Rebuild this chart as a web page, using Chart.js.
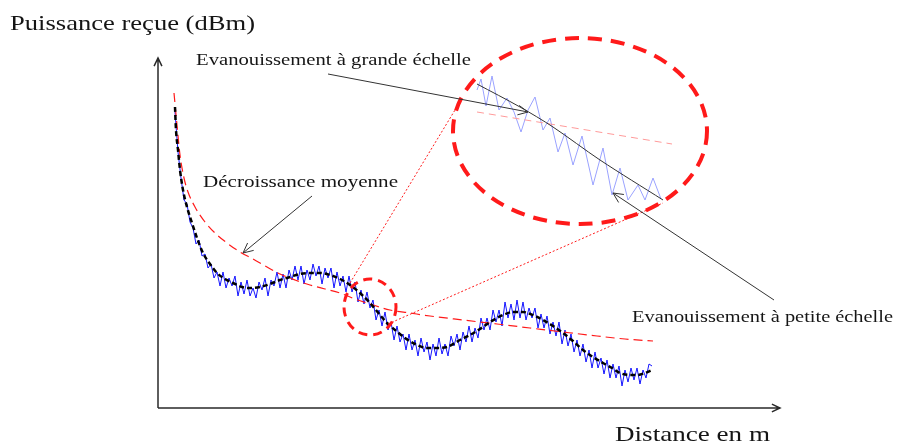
<!DOCTYPE html>
<html>
<head>
<meta charset="utf-8">
<script src="https://cdn.jsdelivr.net/npm/chart.js"></script>
<style>
	body { margin: 0; background: #fff; }
	canvas { display: block; }
</style>
</head>
<body>
<canvas id="chart" width="898" height="444"></canvas>
<script>
// Received power (blue, noisy) vs distance
let blueDist = [34,40,46,52,58,64,70,76,82,88, 94,100,106,112,118,124,130,136,142,148,
	154,160,166,172,178,184,190,196,202,208, 214,220,226,232,238,244,250,256,262,268,
	274,280,286,292,298,304,310,316,322,328, 334,340,346,352,358,364,370,376,382,388,
	394,400,406,412,418,424,430,436,442,448, 454,460,466,472,478,484,490,496,502,508,
	514,520,526,532,538,544,550,556,562,568, 574,580,586,592,598,604,610,616,622,628,
	634,640,646,652,658,664,670,676,682,688, 694,700,706,712,718,724,730,736,742,748,
	754,760,766,772,778,784,790,796,802,808, 814,820,826,832,838,844,850,856,862,868,
	874,880,886,892,898,904,910,916,922,928, 934,940,946,952,958,964,970,976,982,988];
let blueDbm = [-33,-43,-49.5,-55,-56,-60.5,-62,-66,-65,-69,
	-68.5,-72,-71,-74.5,-73,-76.5,-73,-77,-74.5,-76.5,
	-74,-79,-75.5,-78.5,-75,-79,-77,-79.5,-75.5,-77.5,
	-74.5,-79,-75,-76.5,-73,-77,-73.5,-77,-72.5,-75,
	-71.5,-75,-71.5,-76,-72.5,-75,-71,-74,-71.5,-76,
	-72,-74.5,-72,-77,-73,-76.5,-74,-78,-74,-78,
	-75.5,-80.5,-77.5,-81,-78,-82,-80,-85,-82.5,-86.5,
	-83,-87.5,-85.5,-90,-86.5,-90.5,-88.5,-92.5,-88.5,-92.5,
	-90,-94,-89.5,-93,-90.5,-95,-91,-94,-89.5,-93.5,
	-91,-94,-89,-91.5,-88.5,-92.5,-88,-90.5,-86.5,-90.5,
	-87,-89.5,-84.5,-87.5,-84.5,-87.5,-82.5,-85.5,-82.5,-86.5,
	-80.5,-84.5,-81,-85,-80,-84.5,-80.5,-85,-82,-84.5,
	-82,-87,-83.5,-87,-84,-88.5,-85.5,-89,-85.5,-91,
	-87.5,-91.5,-88.5,-93,-90,-94,-91,-95.5,-92.5,-97,
	-93,-97,-94.5,-98.5,-95,-99.5,-96,-99.5,-96.5,-101.5,
	-97.5,-100.5,-97,-100,-97,-101,-97.5,-99.5,-96,-96.5];

// Large scale fading (black dashed)
let meanDist = [34,36,40,44,50,58,68,78,90,104,118,134,150,168,184,204,224,244,264,284,
	304,324,344,364,384,404,424,444,458,474,494,514,538,558,578,604,624,644,664,690,
	710,730,750,770,790,810,830,850,870,890,908,924,944,958,974,988];
let meanDbm = [-31.75,-37.5,-42.5,-47.5,-52.5,-56.75,-60.75,-64.5,-68.25,-71,
	-73.25,-74.75,-75.75,-76.75,-77,-76.75,-76,-75,-74.25,-73.5,
	-73.25,-73.25,-73.75,-74.75,-76.25,-78.25,-80.75,-83.75,-85.75,-87.5,
	-89.5,-91,-92,-92,-91.75,-90,-88.75,-87.25,-85.5,-83.75,
	-83,-83,-83.75,-85,-86.5,-88.25,-90.25,-92.5,-94.25,-95.75,
	-97,-98.25,-98.75,-98.75,-98.25,-97.5];

// Path loss (red dashed)
let lossDist = [32,38,44,52,60,74,94,114,138,164,190,218,244,274,304,334,364,394,424,464,
	504,544,610,678,744,810,878,934,990];
let lossDbm = [-28.25,-36.25,-43.75,-49.5,-53,-56.75,-60.5,-63.25,-65.75,-68,
	-69.75,-71.75,-73.5,-75,-76.25,-77.25,-78.25,-79.75,-81,-82.5,
	-83.25,-84,-85,-86,-87,-88,-89,-89.75,-90.25];

// Zoomed detail inside the big ellipse
let zoomBlueDist = [638,646,656,668,682,698,712,726,740,754,770,784,800,814,830,848,870,890,908,924,940,960,974,990,1006];
let zoomBlueDbm = [-27.5,-24.75,-31.5,-24,-32.5,-29.5,-33,-38,-32.5,-29.25,-37.5,-34.5,-43,-38.25,-46.25,-39,-51.25,-42,-53.75,-47,-55,-51.25,-55,-49.5,-54.75];
let zoomMeanDist = [638,724,790,884,1010];
let zoomMeanDbm = [-26,-31.75,-36.75,-45,-55];
let zoomLossDist = [638,1028];
let zoomLossDbm = [-33,-41];

let distRange = [0, 1244];
let dbmRange = [-107, -20];

function toPoints(xs, ys) {
	return xs.map((x, i) => ({ x: x, y: ys[i] }));
}

// Scaled serif text, stretched to the width seen in the picture
function drawText(ctx, text, x, y, size, width) {
	ctx.save();
	ctx.font = size + 'px "Liberation Serif"';
	ctx.fillStyle = '#151515';
	ctx.textBaseline = 'alphabetic';
	let w = ctx.measureText(text).width;
	ctx.translate(x, y);
	ctx.scale(width / w, 1);
	ctx.fillText(text, 0, 0);
	ctx.restore();
}

function drawArrow(ctx, x1, y1, x2, y2, len) {
	let a = Math.atan2(y2 - y1, x2 - x1);
	ctx.beginPath();
	ctx.moveTo(x1, y1);
	ctx.lineTo(x2, y2);
	ctx.moveTo(x2 - len * Math.cos(a - 0.45), y2 - len * Math.sin(a - 0.45));
	ctx.lineTo(x2, y2);
	ctx.lineTo(x2 - len * Math.cos(a + 0.45), y2 - len * Math.sin(a + 0.45));
	ctx.stroke();
}

let annotations = {
	id: 'annotations',
	afterDatasetsDraw(chart) {
		let ctx = chart.ctx;
		let area = chart.chartArea;
		let X = d => chart.scales.x.getPixelForValue(d);
		let Y = p => chart.scales.y.getPixelForValue(p);

		// axes with open arrow heads
		ctx.save();
		ctx.strokeStyle = '#2a2a2a';
		ctx.lineWidth = 1.5;
		drawArrow(ctx, area.left, area.bottom, area.left, area.top - 2, 9);
		drawArrow(ctx, area.left, area.bottom, area.right, area.bottom, 9);
		ctx.restore();

		// small dashed circle on the curve
		ctx.save();
		ctx.strokeStyle = '#ff1a1a';
		ctx.lineWidth = 3;
		ctx.setLineDash([9, 6]);
		ctx.beginPath();
		ctx.ellipse(X(424), Y(-81.75), X(424) - X(372), Y(-88.75) - Y(-81.75), 0, 0, Math.PI * 2);
		ctx.stroke();

		// big dashed ellipse (zoom)
		ctx.lineWidth = 4;
		ctx.setLineDash([14, 9]);
		ctx.beginPath();
		ctx.ellipse(X(844), Y(-37.75), X(844) - X(590), Y(-61) - Y(-37.75), 0, 0, Math.PI * 2);
		ctx.stroke();

		// dotted links between circle and ellipse
		ctx.lineWidth = 1;
		ctx.setLineDash([2, 2]);
		ctx.beginPath();
		ctx.moveTo(X(384), Y(-75.75));
		ctx.lineTo(X(594), Y(-32.5));
		ctx.moveTo(X(460), Y(-86));
		ctx.lineTo(X(1010), Y(-55.75));
		ctx.stroke();
		ctx.restore();

		// annotation arrows
		ctx.save();
		ctx.strokeStyle = '#333';
		ctx.lineWidth = 1;
		drawArrow(ctx, X(340), Y(-23.5), X(740), Y(-33), 11);
		drawArrow(ctx, X(308), Y(-54), X(170), Y(-68.25), 11);
		drawArrow(ctx, X(1232), Y(-80), X(910), Y(-53.25), 11);
		ctx.restore();

		// texts
		drawText(ctx, 'Puissance reçue (dBm)', 10, 30, 22, 245);
		drawText(ctx, 'Distance en m', 615, 441, 22, 155);
		drawText(ctx, 'Evanouissement à grande échelle', X(76), Y(-21.25), 17, 275);
		drawText(ctx, 'Décroissance moyenne', X(90), Y(-51.75), 17, 195);
		drawText(ctx, 'Evanouissement à petite échelle', X(948), Y(-85.5), 17, 261);
	}
};

let ctx = document.getElementById('chart').getContext('2d');
let chart = new Chart(ctx, {
	type: 'line',
	data: {
		datasets: [
			{
				label: 'Moyenne',
				data: toPoints(meanDist, meanDbm),
				borderColor: '#000',
				borderWidth: 2.5,
				borderDash: [5, 3],
				cubicInterpolationMode: 'monotone'
			},
			{
				label: 'Décroissance moyenne',
				data: toPoints(lossDist, lossDbm),
				borderColor: '#ff1a1a',
				borderWidth: 1.2,
				borderDash: [9, 5],
				cubicInterpolationMode: 'monotone'
			},
			{
				label: 'Puissance reçue',
				data: toPoints(blueDist, blueDbm),
				borderColor: '#1414ff',
				borderWidth: 1,
				tension: 0
			},
			{
				label: 'Zoom moyenne',
				data: toPoints(zoomMeanDist, zoomMeanDbm),
				borderColor: '#333',
				borderWidth: 1,
				tension: 0.3
			},
			{
				label: 'Zoom décroissance',
				data: toPoints(zoomLossDist, zoomLossDbm),
				borderColor: '#ff9a9a',
				borderWidth: 1,
				borderDash: [7, 5]
			},
			{
				label: 'Zoom puissance',
				data: toPoints(zoomBlueDist, zoomBlueDbm),
				borderColor: '#9aa2ff',
				borderWidth: 1,
				tension: 0
			}
		]
	},
	options: {
		responsive: false,
		animation: false,
		devicePixelRatio: 1,
		layout: { padding: { left: 158, right: 118, top: 60, bottom: 36 } },
		elements: { point: { radius: 0 } },
		plugins: {
			legend: { display: false },
			tooltip: { enabled: false }
		},
		scales: {
			x: { type: 'linear', display: false, min: distRange[0], max: distRange[1] },
			y: { type: 'linear', display: false, min: dbmRange[0], max: dbmRange[1] }
		}
	},
	plugins: [annotations]
});
</script>
</body>
</html>
